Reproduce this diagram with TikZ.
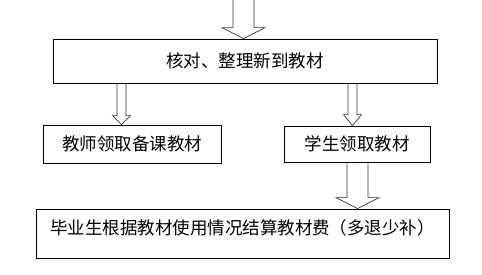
\documentclass[tikz,border=0pt]{standalone}
\usepackage{fontspec}
\setmainfont{Noto Sans CJK SC}
\usetikzlibrary{calc}

\tikzset{
    box/.style={draw, line width=0.8pt, inner sep=0pt,
        font=\fontsize{17.5}{20}\selectfont},
    hollow/.style={draw=black!80, line width=0.7pt}
}

\begin{document}
\begin{tikzpicture}[x=1pt, y=-1pt]

    \useasboundingbox (0,0) rectangle (482,274);

    % hollow arrow: start, end, shaft half width, head half width, head length
    \def\hollowarrow#1#2#3#4#5{
        \draw[hollow] let \p1=(#1), \p2=(#2) in
            (\x1-#3,\y1)
            -- (\x1-#3,\y2+#5)
            -- (\x1-#4,\y2+#5)
            -- (\x1,\y2)
            -- (\x1+#4,\y2+#5)
            -- (\x1+#3,\y2+#5)
            -- (\x1+#3,\y1);
    }

    % boxes
    \node[box, minimum width=384, minimum height=44] (check) at (245,61)
        {核对、整理新到教材};
    \node[box, minimum width=178, minimum height=38] (teacher) at (132,144)
        {教师领取备课教材};
    \node[box, minimum width=146, minimum height=36] (student) at (357,144)
        {学生领取教材};
    \node[box, minimum width=413, minimum height=49,
        text height=14pt, text depth=12pt] (settle) at (242.5,233.5)
        {毕业生根据教材使用情况结算教材费（多退少补）};

    % arrow positions
    \coordinate (in) at (243.5,0);
    \coordinate (xl) at (121.5,0);
    \coordinate (xr) at (352.5,0);
    \coordinate (xs) at (357.5,0);

    % arrows
    \hollowarrow{in}{check.north}{10.5}{21.5}{11}
    \hollowarrow{check.south -| xl}{teacher.north -| xl}{4.5}{9}{9}
    \hollowarrow{check.south -| xr}{student.north -| xr}{4.5}{9}{11}
    \hollowarrow{student.south -| xs}{settle.north -| xs}{10.5}{21.5}{11}

\end{tikzpicture}
\end{document}
